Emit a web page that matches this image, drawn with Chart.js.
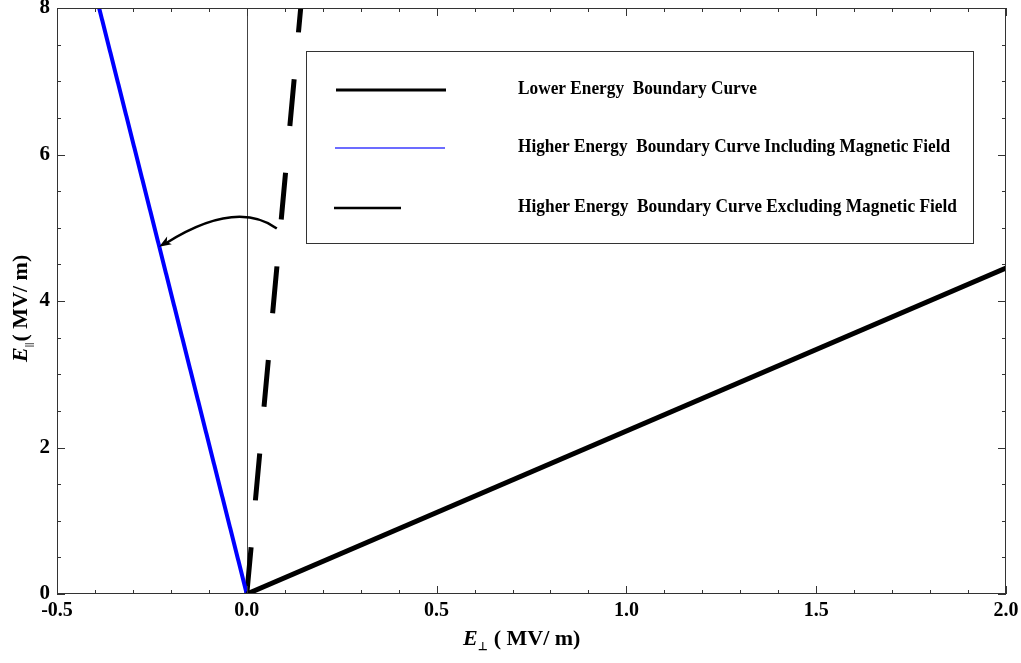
<!DOCTYPE html>
<html>
<head>
<meta charset="utf-8">
<script src="https://cdn.jsdelivr.net/npm/chart.js@4.4.1/dist/chart.umd.min.js"></script>
<style>
  html, body { margin: 0; padding: 0; background: #fff; }
  #wrap { width: 1021px; height: 663px; position: relative; }
</style>
</head>
<body>
<div id="wrap"><canvas id="fieldChart"></canvas></div>
<script>
// curves (E_perp, E_par in MV/m)
const lowerX = [0, 2.0];
const lowerY = [0, 4.45];
const withFieldX = [0, -0.389];
const withFieldY = [0, 8];
const withoutFieldX = [0, 0.142];
const withoutFieldY = [0, 8];

const seriesNames = [
  'Lower Energy  Boundary Curve',
  'Higher Energy  Boundary Curve Including Magnetic Field',
  'Higher Energy  Boundary Curve Excluding Magnetic Field'
];

// annotation arrow (data units): start, control, end
const arrowX = [0.079, -0.029, -0.231];
const arrowY = [4.99, 5.39, 4.74];

const serif = '"Liberation Serif", "Times New Roman", serif';

function toPoints(xs, ys) {
  return xs.map((x, i) => ({ x: x, y: ys[i] }));
}

// frame, inward ticks, zero line, arrow, legend, axis titles
const decor = {
  id: 'decor',
  beforeDatasetsDraw(chart) {
    const { ctx, chartArea: a, scales: { x } } = chart;
    ctx.save();
    // vertical line at x = 0
    ctx.strokeStyle = '#444';
    ctx.lineWidth = 1;
    const x0 = Math.round(x.getPixelForValue(0)) + 0.5;
    ctx.beginPath();
    ctx.moveTo(x0, a.top);
    ctx.lineTo(x0, a.bottom);
    ctx.stroke();
    ctx.restore();
  },
  afterDatasetsDraw(chart) {
    const { ctx, chartArea: a, scales: { x, y } } = chart;
    ctx.save();
    ctx.strokeStyle = '#333';
    ctx.lineWidth = 1;
    ctx.strokeRect(a.left + 0.5, a.top + 0.5, a.right - a.left - 1, a.bottom - a.top - 1);

    // x ticks every 0.1, major every 0.5
    ctx.beginPath();
    for (let i = -5; i <= 20; i++) {
      const px = Math.round(x.getPixelForValue(i / 10)) + 0.5;
      const len = i % 5 === 0 ? 8 : 4;
      ctx.moveTo(px, a.bottom); ctx.lineTo(px, a.bottom - len);
      ctx.moveTo(px, a.top); ctx.lineTo(px, a.top + len);
    }
    // y ticks every 0.5, major every 2
    for (let i = 0; i <= 16; i++) {
      const py = Math.round(y.getPixelForValue(i / 2)) + 0.5;
      const len = i % 4 === 0 ? 8 : 4;
      ctx.moveTo(a.left, py); ctx.lineTo(a.left + len, py);
      ctx.moveTo(a.right, py); ctx.lineTo(a.right - len, py);
    }
    ctx.stroke();

    // curved arrow
    const p0 = [x.getPixelForValue(arrowX[0]), y.getPixelForValue(arrowY[0])];
    const c = [x.getPixelForValue(arrowX[1]), y.getPixelForValue(arrowY[1])];
    const p1 = [x.getPixelForValue(arrowX[2]), y.getPixelForValue(arrowY[2])];
    ctx.strokeStyle = '#000';
    ctx.lineWidth = 2.5;
    ctx.beginPath();
    ctx.moveTo(p0[0], p0[1]);
    ctx.quadraticCurveTo(c[0], c[1], p1[0] + 6, p1[1] - 3);
    ctx.stroke();
    const ang = Math.atan2(p1[1] - c[1], p1[0] - c[0]);
    ctx.fillStyle = '#000';
    ctx.beginPath();
    ctx.moveTo(p1[0], p1[1]);
    ctx.lineTo(p1[0] - 13 * Math.cos(ang - 0.35), p1[1] - 13 * Math.sin(ang - 0.35));
    ctx.lineTo(p1[0] - 9 * Math.cos(ang), p1[1] - 9 * Math.sin(ang));
    ctx.lineTo(p1[0] - 13 * Math.cos(ang + 0.35), p1[1] - 13 * Math.sin(ang + 0.35));
    ctx.closePath();
    ctx.fill();

    // legend box
    ctx.fillStyle = '#fff';
    ctx.fillRect(306, 51, 667, 192);
    ctx.strokeStyle = '#333';
    ctx.lineWidth = 1;
    ctx.strokeRect(306.5, 51.5, 667, 192);
    const rows = [
      { y: 90, x1: 336, x2: 446, color: '#000', w: 3, textW: 239 },
      { y: 148, x1: 335, x2: 445, color: '#3b3bff', w: 1.5, textW: 432 },
      { y: 208, x1: 334, x2: 401, color: '#000', w: 2.5, textW: 439 }
    ];
    rows.forEach((r, i) => {
      ctx.strokeStyle = r.color;
      ctx.lineWidth = r.w;
      ctx.beginPath();
      ctx.moveTo(r.x1, r.y); ctx.lineTo(r.x2, r.y);
      ctx.stroke();
      ctx.font = 'bold 19px ' + serif;
      ctx.fillStyle = '#000';
      ctx.textBaseline = 'middle';
      ctx.textAlign = 'left';
      const w = ctx.measureText(seriesNames[i]).width;
      ctx.save();
      ctx.translate(518, r.y - 1);
      ctx.scale(r.textW / w, 1);
      ctx.fillText(seriesNames[i], 0, 0);
      ctx.restore();
    });

    // x axis title: E⊥ (MV/m)
    ctx.fillStyle = '#000';
    ctx.textBaseline = 'alphabetic';
    ctx.textAlign = 'left';
    let tx = 463;
    ctx.font = 'italic bold 22px ' + serif;
    ctx.fillText('E', tx, 645);
    tx += ctx.measureText('E').width;
    ctx.font = 'bold 11px ' + serif;
    ctx.fillText('\u22A5', tx, 650);
    tx += ctx.measureText('\u22A5').width + 6;
    ctx.font = 'bold 22px ' + serif;
    ctx.fillText('( MV/ m)', tx, 645);

    // y axis title: E|| (MV/m)
    ctx.save();
    ctx.translate(27, 362);
    ctx.rotate(-Math.PI / 2);
    let ty = 0;
    ctx.font = 'italic bold 22px ' + serif;
    ctx.fillText('E', ty, 0);
    ty += ctx.measureText('E').width;
    ctx.font = 'bold 11px ' + serif;
    ctx.fillText('||', ty, 5);
    ty += ctx.measureText('||').width + 1;
    ctx.font = 'bold 22px ' + serif;
    ctx.fillText('( MV/ m)', ty, 0);
    ctx.restore();
    ctx.restore();
  }
};

new Chart(document.getElementById('fieldChart'), {
  type: 'scatter',
  data: {
    datasets: [
      {
        label: seriesNames[0],
        data: toPoints(lowerX, lowerY),
        showLine: true,
        borderColor: '#000',
        borderWidth: 5,
        pointRadius: 0
      },
      {
        label: seriesNames[1],
        data: toPoints(withFieldX, withFieldY),
        showLine: true,
        borderColor: '#0000ff',
        borderWidth: 4,
        pointRadius: 0
      },
      {
        label: seriesNames[2],
        data: toPoints(withoutFieldX, withoutFieldY),
        showLine: true,
        borderColor: '#000',
        borderWidth: 5,
        borderDash: [47, 47],
        borderCapStyle: 'butt',
        pointRadius: 0
      }
    ]
  },
  options: {
    responsive: true,
    maintainAspectRatio: false,
    animation: false,
    layout: { autoPadding: false, padding: { left: 0, top: 8, right: 15, bottom: 0 } },
    plugins: {
      legend: { display: false },
      tooltip: { enabled: false }
    },
    scales: {
      x: {
        type: 'linear',
        min: -0.5,
        max: 2.0,
        afterFit: s => { s.height = 69; s.paddingLeft = 0; s.paddingRight = 0; },
        grid: { display: false, drawTicks: false },
        border: { display: false },
        ticks: {
          stepSize: 0.5,
          padding: 5,
          color: '#000',
          maxRotation: 0,
          font: { family: serif, size: 20, weight: 'bold' },
          callback: v => v.toFixed(1)
        }
      },
      y: {
        type: 'linear',
        min: 0,
        max: 8,
        afterFit: s => { s.width = 57; s.paddingTop = 0; s.paddingBottom = 0; },
        grid: { display: false, drawTicks: false },
        border: { display: false },
        ticks: {
          stepSize: 2,
          padding: 7,
          color: '#000',
          font: { family: serif, size: 21, weight: 'bold' },
          callback: v => String(v)
        }
      }
    }
  },
  plugins: [decor]
});
</script>
</body>
</html>
